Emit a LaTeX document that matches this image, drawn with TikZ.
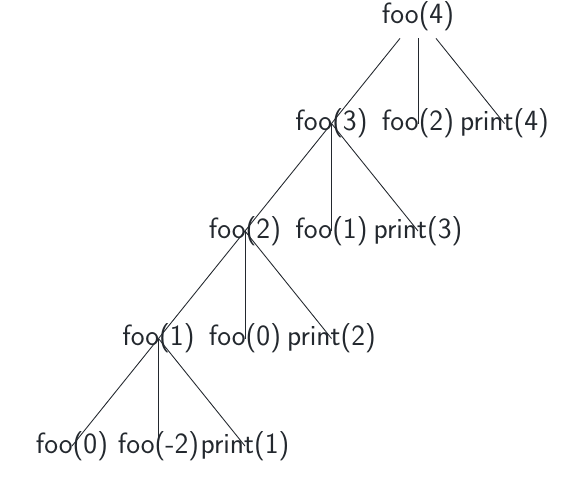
\documentclass[tikz,border=0pt]{standalone}
\usepackage{tikz}
\usetikzlibrary{
  positioning
}
\definecolor{ink}{RGB}{35,40,46}

\begin{document}
\begin{tikzpicture}[node distance = 2.15cm and 1.73cm, on grid,
    call/.style = {inner sep = 0pt, text = ink, font = \fontsize{16.7}{19}\sffamily},
    link/.style = {draw = ink, line width = 0.5pt}]
    \useasboundingbox (-8.36,0.32) rectangle (3.4,-9.32);

    \node[call, inner ysep = 4.2pt] (f4) {foo(4)};

    \node[call, below left = of f4] (f3) {foo(3)};
    \node[call, right = of f3] (f2a) {foo(2)};
    \node[call, right = of f2a] (p4) {print(4)};

    \node[call, below left = of f3] (f2) {foo(2)};
    \node[call, right = of f2] (f1a) {foo(1)};
    \node[call, right = of f1a] (p3) {print(3)};

    \node[call, below left = of f2] (f1) {foo(1)};
    \node[call, right = of f1] (f0a) {foo(0)};
    \node[call, right = of f0a] (p2) {print(2)};

    \node[call, below left = of f1] (f0) {foo(0)};
    \node[call, right = of f0] (fm2) {foo(-2)};
    \node[call, right = of fm2] (p1) {print(1)};

    \draw[link] (f4) -- (f3.center);
    \draw[link] (f4) -- (f2a.center);
    \draw[link] (f4) -- (p4.center);

    \draw[link] (f3.center) -- (f2.center);
    \draw[link] (f3.center) -- (f1a.center);
    \draw[link] (f3.center) -- (p3.center);

    \draw[link] (f2.center) -- (f1.center);
    \draw[link] (f2.center) -- (f0a.center);
    \draw[link] (f2.center) -- (p2.center);

    \draw[link] (f1.center) -- (f0.center);
    \draw[link] (f1.center) -- (fm2.center);
    \draw[link] (f1.center) -- (p1.center);
\end{tikzpicture}
\end{document}
